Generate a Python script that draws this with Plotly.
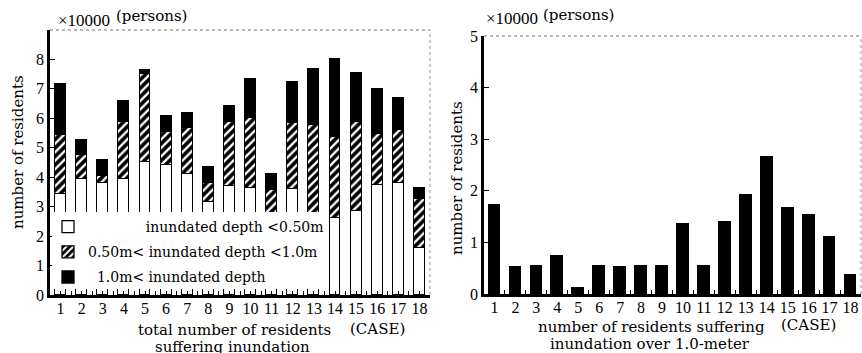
import plotly.graph_objects as go

# ---------------- data (×10000 persons) ----------------
cases = list(range(1, 19))
case_labels = [str(c) for c in cases]

white_lt050 = [3.44, 3.93, 3.80, 3.93, 4.51, 4.40, 4.10, 3.17, 3.71, 3.63,
               2.70, 3.60, 2.75, 2.61, 2.86, 3.74, 3.80, 1.59]
hatch_050_100 = [2.01, 0.82, 0.25, 1.93, 3.01, 1.12, 1.56, 0.63, 2.18, 2.37,
                 0.88, 2.25, 3.02, 2.76, 3.02, 1.73, 1.80, 1.68]
black_gt100 = [1.73, 0.53, 0.55, 0.74, 0.11, 0.55, 0.52, 0.54, 0.54, 1.35,
               0.54, 1.39, 1.91, 2.65, 1.66, 1.54, 1.10, 0.36]

left_yticks = [0, 1, 2, 3, 4, 5, 6, 7, 8]
right_yticks = [0, 1, 2, 3, 4, 5]

legend_names = [
    "\u00a0" * 13 + "inundated depth <0.50m",
    "0.50m< inundated depth <1.0m",
    "\u00a0\u00a0" + "1.0m< inundated depth",
]

W, H = 862, 353
FONT = "DejaVu Serif"
TICKFONT = "Liberation Serif"


def px(x):
    return x / W


def py(y):
    return 1 - y / H


fig = go.Figure()

outline = dict(color="black", width=1.3)

fig.add_trace(go.Bar(x=cases, y=white_lt050, name=legend_names[0], legendgroup="a",
                     marker=dict(color="white", line=outline),
                     width=0.52, xaxis="x", yaxis="y"))
fig.add_trace(go.Bar(x=cases, y=hatch_050_100, name=legend_names[1], legendgroup="b",
                     marker=dict(color="black", line=outline,
                                 pattern=dict(shape="/", fgcolor="white", bgcolor="black",
                                              size=6, solidity=0.4, fillmode="replace")),
                     width=0.52, xaxis="x", yaxis="y"))
fig.add_trace(go.Bar(x=cases, y=black_gt100, name=legend_names[2], legendgroup="c",
                     marker=dict(color="black", line=outline),
                     width=0.52, xaxis="x", yaxis="y"))

fig.add_trace(go.Bar(x=cases, y=black_gt100, showlegend=False,
                     marker=dict(color="black", line=outline),
                     width=0.56, xaxis="x2", yaxis="y2"))

xcommon = dict(tickmode="array", tickvals=cases, ticktext=case_labels,
               ticks="inside", ticklen=4, tickwidth=1.2, tickcolor="black",
               showline=True, linecolor="black", linewidth=2.5,
               showgrid=False, zeroline=False, range=[0.5, 18.5],
               automargin=False, ticklabelstandoff=-3,
               tickfont=dict(family=TICKFONT, size=16, color="black"),
               minor=dict(ticks="inside", ticklen=4, tickwidth=1.2, tickcolor="black",
                          tickvals=[c + 0.5 for c in cases[:-1]], showgrid=False))
ycommon = dict(ticks="inside", ticklen=5, tickwidth=1.2, tickcolor="black",
               showline=True, linecolor="black", linewidth=2.5,
               showgrid=False, zeroline=False, automargin=False,
               tickfont=dict(family=TICKFONT, size=16, color="black"))

fig.update_layout(
    template="none",
    width=W, height=H,
    autosize=False,
    margin=dict(l=0, r=0, t=0, b=0, pad=0),
    paper_bgcolor="white", plot_bgcolor="white",
    barmode="stack", bargap=0,
    font=dict(family=FONT, size=15, color="black"),
    xaxis=dict(domain=[px(50), px(430)], anchor="y", **xcommon),
    yaxis=dict(domain=[py(295), py(30)], anchor="x", range=[0, 9.0],
               tickmode="array", tickvals=left_yticks,
               ticktext=[str(v) for v in left_yticks], **ycommon),
    xaxis2=dict(domain=[px(484), px(861)], anchor="y2", **xcommon),
    yaxis2=dict(domain=[py(294), py(36)], anchor="x2", range=[0, 5.0],
                tickmode="array", tickvals=right_yticks,
                ticktext=[str(v) for v in right_yticks], **ycommon),
    showlegend=True,
    legend=dict(x=px(48), y=py(211), xanchor="left", yanchor="top",
                bgcolor="rgba(0,0,0,0)", borderwidth=0,
                traceorder="grouped", tracegroupgap=4, itemwidth=30,
                font=dict(family=FONT, size=14, color="black")),
)

shapes = [
    # frame top / right (thin, grey)
    dict(type="line", xref="x domain", yref="y domain", x0=0, x1=1, y0=1, y1=1,
         line=dict(color="#777", width=1.2, dash="dot")),
    dict(type="line", xref="x domain", yref="y domain", x0=1, x1=1, y0=0, y1=1,
         line=dict(color="#999", width=1, dash="dot")),
    dict(type="line", xref="x2 domain", yref="y2 domain", x0=0, x1=1, y0=1, y1=1,
         line=dict(color="#777", width=1.2, dash="dot")),
    dict(type="line", xref="x2 domain", yref="y2 domain", x0=1, x1=1, y0=0, y1=1,
         line=dict(color="#999", width=1, dash="dot")),
    # white legend backdrop
    dict(type="rect", xref="paper", yref="paper", layer="above",
         x0=px(52), x1=px(323), y0=py(289), y1=py(212),
         fillcolor="white", line=dict(width=0)),
]
fig.update_layout(shapes=shapes)

ann = []


def add_text(text, x, y, size=15, angle=0, xanchor="center", family=FONT):
    ann.append(dict(text=text, x=px(x), y=py(y), xref="paper", yref="paper",
                    showarrow=False, xanchor=xanchor, yanchor="middle",
                    textangle=angle, font=dict(family=family, size=size, color="black")))


add_text("×10000", 56, 20, size=17, xanchor="left", family=TICKFONT)
add_text("(persons)", 114, 16, size=15, xanchor="left")
add_text("×10000", 484, 19, size=17, xanchor="left", family=TICKFONT)
add_text("(persons)", 541, 15, size=15, xanchor="left")

add_text("number of residents", 18, 152, angle=-90)
add_text("number of residents", 457, 178, angle=-90)

add_text("total number of residents", 234, 330)
add_text("(CASE)", 377, 329)
add_text("suffering inundation", 232, 347)

add_text("number of residents suffering", 651, 327)
add_text("(CASE)", 808, 325)
add_text("inundation over 1.0-meter", 650, 344)

fig.update_layout(annotations=ann)

fig.write_html("out.html", config={"displayModeBar": False},
               post_script="document.body.style.margin='0px';")
